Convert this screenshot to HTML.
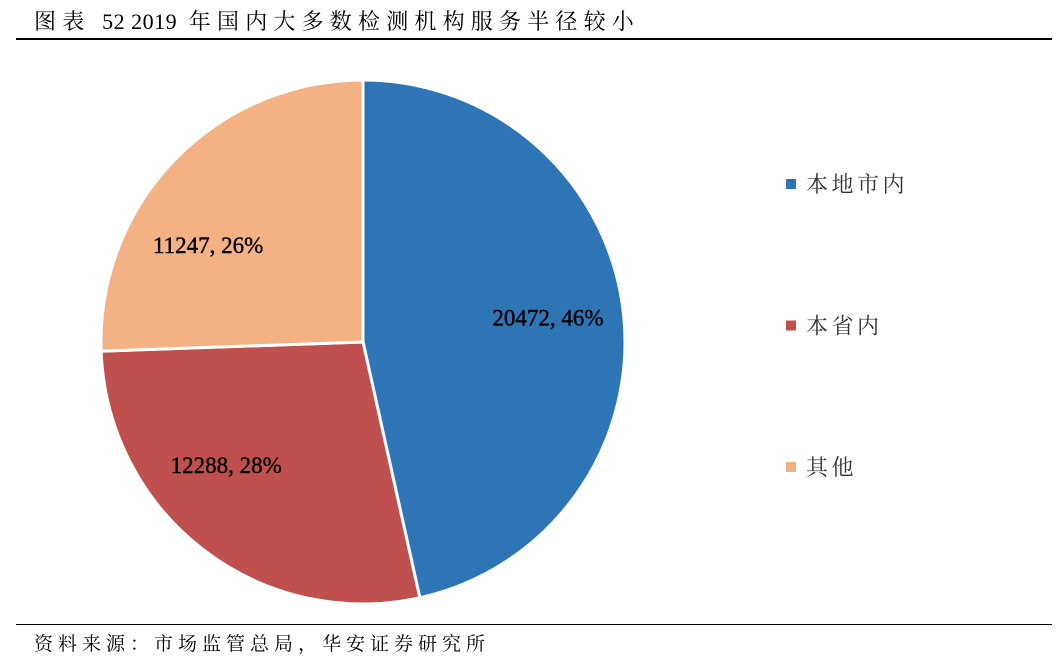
<!DOCTYPE html>
<html><head><meta charset="utf-8">
<style>
body{margin:0;width:1062px;height:663px;background:#fff;overflow:hidden;font-family:"Liberation Serif","Noto Serif CJK SC",serif;}
#title{position:absolute;left:34px;top:5px;font-size:22px;color:#000;letter-spacing:6.2px;white-space:nowrap}
#title .n{letter-spacing:0.5px}
#topline{position:absolute;left:16px;top:38px;width:1036px;height:2px;background:#000}
#botline{position:absolute;left:16px;top:624px;width:1036px;height:1px;background:#000}
#source{position:absolute;left:34px;top:629px;font-size:19px;color:#000;letter-spacing:5px;white-space:nowrap}
svg{position:absolute;left:0;top:0}
</style></head><body>
<div id="title">图表 <span class="n">52 2019</span> 年国内大多数检测机构服务半径较小</div>
<div id="topline"></div>
<svg id="chart" width="1062" height="663"></svg>
<div id="botline"></div>
<div id="source">资料来源：市场监管总局，华安证券研究所</div>
<script>
const categories=["本地市内","本省内","其他"];
const values=[20472,12288,11247];
const pctLabels=["46%","28%","26%"];
const colors=["#2E75B6","#C0504D","#F4B183"];
const labelNudgeX=[0,-23,-21];
const labelNudgeY=[-4,-24,32];
const NS="http://www.w3.org/2000/svg";
const svg=document.getElementById('chart');
const cx=363,cy=342,r=262;
const total=values.reduce((a,b)=>a+b,0);
let start=0;
function pt(a,rr){return [cx+rr*Math.sin(a),cy-rr*Math.cos(a)];}
values.forEach((v,i)=>{
  const ang=v/total*2*Math.PI,end=start+ang;
  const [x1,y1]=pt(start,r),[x2,y2]=pt(end,r);
  const p=document.createElementNS(NS,'path');
  p.setAttribute('d',`M${cx},${cy}L${x1},${y1}A${r},${r} 0 ${ang>Math.PI?1:0} 1 ${x2},${y2}Z`);
  p.setAttribute('fill',colors[i]);p.setAttribute('stroke','#fff');p.setAttribute('stroke-width','3');
  
  
  svg.appendChild(p);
  const [lx,ly]=pt(start+ang/2,r*0.71);
  const t=document.createElementNS(NS,'text');
  t.setAttribute('x',lx+labelNudgeX[i]);t.setAttribute('y',ly+8+labelNudgeY[i]);t.setAttribute('text-anchor','middle');
  t.setAttribute('font-size','23');t.setAttribute('font-family','"Liberation Serif",serif');
  t.setAttribute('stroke','#000');t.setAttribute('stroke-width','0.4');
  t.textContent=v+', '+pctLabels[i];
  
  
  svg.appendChild(t);
  start=end;
});
categories.forEach((c,i)=>{
  const y=184+i*141.5;
  const g=document.createElementNS(NS,'g');
  
  
  const s=document.createElementNS(NS,'rect');
  s.setAttribute('x',786);s.setAttribute('y',y-5);s.setAttribute('width',10);s.setAttribute('height',10);s.setAttribute('fill',colors[i]);
  g.appendChild(s);
  const t=document.createElementNS(NS,'text');
  t.setAttribute('x',806);t.setAttribute('y',y+8);t.setAttribute('font-size','22');
  t.setAttribute('font-family','"Noto Serif CJK SC",serif');t.setAttribute('letter-spacing','3.5');t.setAttribute('fill','#333');
  t.textContent=c;g.appendChild(t);
  svg.appendChild(g);
});
</script>
</body></html>
